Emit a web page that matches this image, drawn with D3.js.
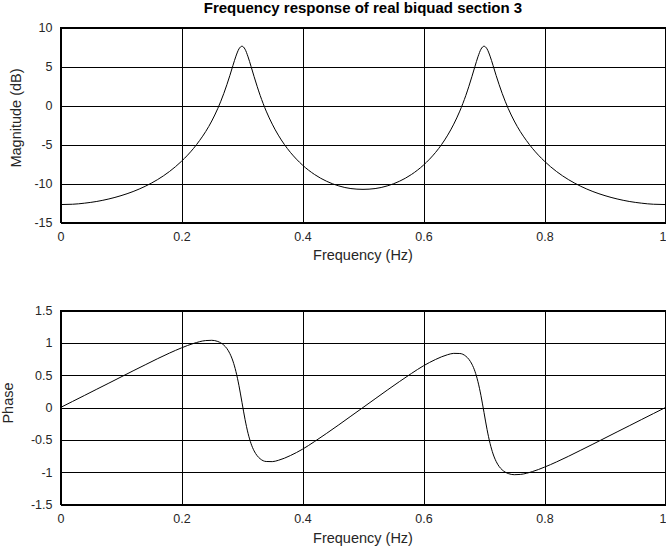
<!DOCTYPE html>
<html><head><meta charset="utf-8">
<script src="https://cdn.jsdelivr.net/npm/d3@7"></script>
<style>
html,body{margin:0;padding:0;background:#fff;}
svg{display:block;font-family:"Liberation Sans",Arial,Helvetica,sans-serif;}
</style></head>
<body>
<svg id="chart" width="666" height="547"></svg>
<script>
// ---- data ----
const titleText = "Frequency response of real biquad section 3";
const xTicks = [0, 0.2, 0.4, 0.6, 0.8, 1];
const xTickLabels = ["0", "0.2", "0.4", "0.6", "0.8", "1"];
const magTicks = [10, 5, 0, -5, -10, -15];
const magTickLabels = ["10", "5", "0", "-5", "-10", "-15"];
const phaseTicks = [1.5, 1, 0.5, 0, -0.5, -1, -1.5];
const phaseTickLabels = ["1.5", "1", "0.5", "0", "-0.5", "-1", "-1.5"];

const magFreq = [0,0.02,0.04,0.06,0.08,0.1,0.12,0.14,0.16,0.18,0.2,0.21,0.22,0.23,0.24,0.25,0.26,0.27,0.275,0.28,0.285,0.29,0.295,0.3,0.305,0.31,0.315,0.32,0.325,0.33,0.34,0.35,0.36,0.37,0.38,0.39,0.4,0.42,0.44,0.46,0.48,0.5,
  0.52,0.54,0.56,0.58,0.6,0.61,0.62,0.63,0.64,0.65,0.66,0.67,0.675,0.68,0.685,0.69,0.695,0.7,0.705,0.71,0.715,0.72,0.725,0.73,0.74,0.75,0.76,0.77,0.78,0.79,0.8,0.82,0.84,0.86,0.88,0.9,0.92,0.94,0.96,0.98,1];
const magDb = [-12.70,-12.66,-12.52,-12.30,-11.98,-11.56,-11.03,-10.36,-9.52,-8.47,-7.15,-6.37,-5.49,-4.48,-3.34,-1.99,-0.38,1.56,2.67,3.86,5.13,6.33,7.26,7.60,7.22,6.24,5.00,3.70,2.46,1.30,-0.72,-2.39,-3.80,-4.99,-6.01,-6.88,-7.64,-8.85,-9.72,-10.31,-10.65,-10.75,
  -10.65,-10.31,-9.72,-8.85,-7.64,-6.88,-6.01,-4.99,-3.80,-2.39,-0.72,1.30,2.46,3.70,5.00,6.24,7.22,7.60,7.26,6.33,5.13,3.86,2.67,1.56,-0.38,-1.99,-3.34,-4.48,-5.49,-6.37,-7.15,-8.47,-9.52,-10.36,-11.03,-11.56,-11.98,-12.30,-12.52,-12.66,-12.70];

const phaseFreq = [0,0.02,0.04,0.06,0.08,0.1,0.12,0.14,0.16,0.18,0.2,0.22,0.24,0.25,0.26,0.27,0.275,0.28,0.285,0.29,0.295,0.3,0.305,0.31,0.315,0.32,0.325,0.33,0.34,0.35,0.36,0.38,0.4,0.42,0.44,0.46,0.48,0.5,
  0.52,0.54,0.56,0.58,0.6,0.62,0.64,0.65,0.66,0.67,0.675,0.68,0.685,0.69,0.695,0.7,0.705,0.71,0.715,0.72,0.725,0.73,0.74,0.75,0.76,0.78,0.8,0.82,0.84,0.86,0.88,0.9,0.92,0.94,0.96,0.98,1];
const phaseVal = [0,0.094,0.188,0.283,0.377,0.472,0.567,0.660,0.753,0.841,0.922,0.991,1.035,1.039,1.021,0.964,0.912,0.833,0.718,0.555,0.337,0.077,-0.183,-0.399,-0.560,-0.671,-0.745,-0.793,-0.835,-0.837,-0.817,-0.743,-0.645,-0.526,-0.399,-0.268,-0.134,0,
  0.134,0.268,0.399,0.526,0.645,0.743,0.817,0.837,0.835,0.793,0.745,0.671,0.560,0.399,0.183,-0.077,-0.337,-0.555,-0.718,-0.833,-0.912,-0.964,-1.021,-1.039,-1.035,-0.991,-0.922,-0.841,-0.753,-0.660,-0.567,-0.472,-0.377,-0.283,-0.188,-0.094,0];

// ---- layout ----
const svg = d3.select("#chart");
const left = 60.5, right = 665.5;
const panels = [
  {top: 27.5, bottom: 222.5, domain: [-15, 10], ticks: magTicks, labels: magTickLabels,
   xs: magFreq, ys: magDb, ylabel: "Magnitude (dB)", ylabelX: 16, ylabelY: 118, xlabelY: 260},
  {top: 310.5, bottom: 504.5, domain: [-1.5, 1.5], ticks: phaseTicks, labels: phaseTickLabels,
   xs: phaseFreq, ys: phaseVal, ylabel: "Phase", ylabelX: 8, ylabelY: 403, xlabelY: 543}
];

const x = d3.scaleLinear().domain([0, 1]).range([left, right]);

svg.append("text")
  .attr("x", (left + right) / 2).attr("y", 13)
  .attr("text-anchor", "middle")
  .attr("font-size", 15).attr("font-weight", "bold")
  .text(titleText);

panels.forEach(p => {
  const y = d3.scaleLinear().domain(p.domain).range([p.bottom, p.top]);
  const w = right - left, h = p.bottom - p.top;

  const gx = svg.append("g").attr("transform", `translate(0,${p.bottom})`)
    .call(d3.axisBottom(x).tickValues(xTicks)
      .tickFormat((d, i) => xTickLabels[i])
      .tickSizeInner(-h).tickSizeOuter(0).tickPadding(10));
  const gy = svg.append("g").attr("transform", `translate(${left},0)`)
    .call(d3.axisLeft(y).tickValues(p.ticks)
      .tickFormat((d, i) => p.labels[i])
      .tickSizeInner(-w).tickSizeOuter(0).tickPadding(8));
  [gx, gy].forEach(g => {
    g.select(".domain").remove();
    g.selectAll("line").attr("stroke", "#000").attr("stroke-width", 1)
      .attr("shape-rendering", "crispEdges");
    g.selectAll("text").attr("font-size", 12.5).attr("fill", "#262626")
      .attr("font-family", "Liberation Sans, Arial, sans-serif");
  });
  // keep the last x label ("1") inside the picture, flush with the right edge
  gx.selectAll(".tick").filter(d => d === 1).select("text")
    .attr("text-anchor", "end").attr("x", 0.5);

  svg.append("rect").attr("x", left).attr("y", p.top)
    .attr("width", w).attr("height", h)
    .attr("fill", "none").attr("stroke", "#000").attr("shape-rendering", "crispEdges");

  const line = d3.line().x((d, i) => x(p.xs[i])).y(d => y(d)).curve(d3.curveMonotoneX);
  svg.append("path").datum(p.ys).attr("d", line)
    .attr("fill", "none").attr("stroke", "#000").attr("stroke-width", 1);

  svg.append("text").attr("x", (left + right) / 2).attr("y", p.xlabelY)
    .attr("text-anchor", "middle").attr("font-size", 14.5).attr("fill", "#262626")
    .text("Frequency (Hz)");
  svg.append("text").attr("transform", `translate(${p.ylabelX},${p.ylabelY}) rotate(-90)`)
    .attr("text-anchor", "middle").attr("dy", "0.35em")
    .attr("font-size", 14.5).attr("fill", "#262626")
    .text(p.ylabel);
});
</script>
</body></html>
